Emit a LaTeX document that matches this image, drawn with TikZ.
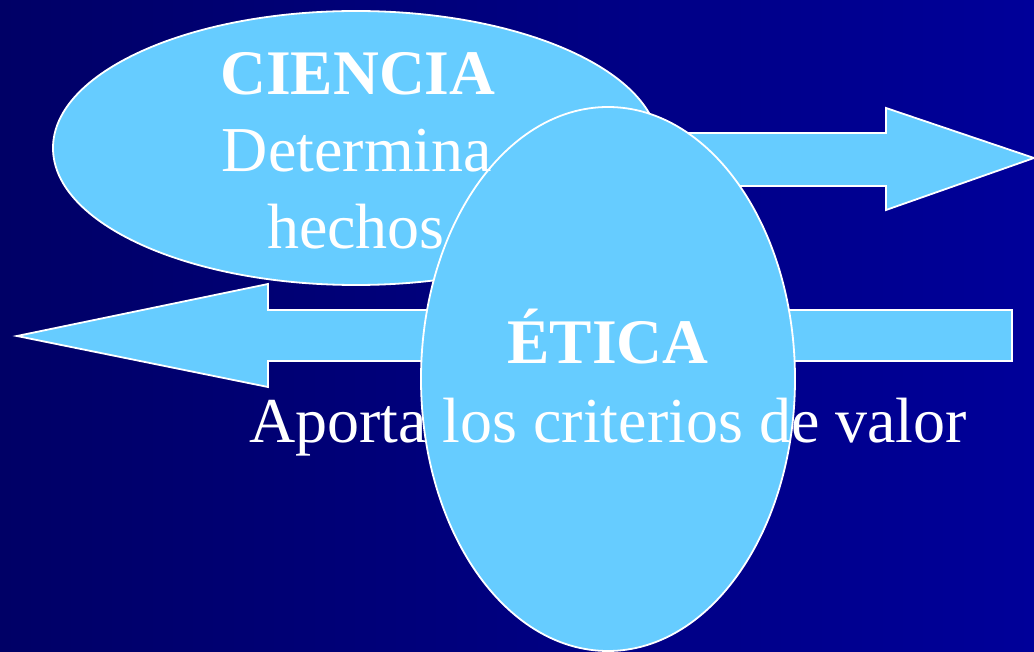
\documentclass[tikz,border=0pt]{standalone}
\usepackage{fontspec}
\setmainfont{Liberation Serif}
\definecolor{bgL}{HTML}{000066}
\definecolor{bgR}{HTML}{000099}
\definecolor{shapefill}{HTML}{66CCFF}
\begin{document}
\begin{tikzpicture}[x=1pt,y=-1pt,
  shapestyle/.style={fill=shapefill,draw=white,line width=1.8pt,line join=miter},
  lbl/.style={text=white,inner sep=0pt,anchor=base,font=\fontsize{64}{77}\selectfont},
  lblb/.style={lbl,font=\fontsize{63.5}{77}\selectfont\bfseries}]
\useasboundingbox (0,0) rectangle (1034,652);
\fill[left color=bgL,right color=bgR] (0,0) rectangle (1034,652);
% CIENCIA ellipse
\path[shapestyle] (356,148) ellipse [x radius=303pt, y radius=137pt];
% right-pointing arrow
\path[shapestyle] (608,133) -- (886,133) -- (886,108) -- (1034,158) -- (886,210) -- (886,186) -- (608,186) -- cycle;
% left-pointing arrow
\path[shapestyle] (1012,310) -- (268,310) -- (268,284) -- (17,336) -- (268,387) -- (268,361) -- (1012,361) -- cycle;
% ETICA ellipse
\path[shapestyle] (608,379) ellipse [x radius=187pt, y radius=272pt];
% texts
\node[lblb] (cTitle) at (358,95) {CIENCIA};
\node[lbl] (cLine1) at (357,172) {Determina};
\node[lbl] (cLine2) at (356,249) {hechos};
\node[lblb] (eTitle) at (608,363) {ÉTICA};
\node[lbl] (eLine) at (608,442) {Aporta los criterios de valor};
\end{tikzpicture}
\end{document}
